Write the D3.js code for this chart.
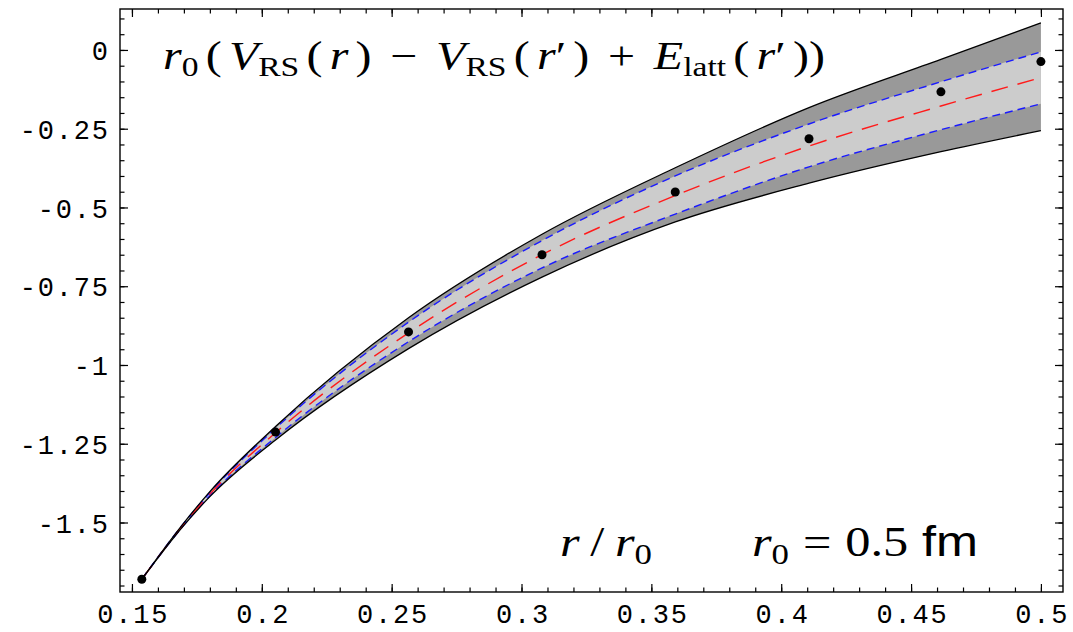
<!DOCTYPE html>
<html>
<head>
<meta charset="utf-8">
<script src="https://cdn.jsdelivr.net/npm/d3@7"></script>
<style>
  body { margin: 0; background: #fff; }
</style>
</head>
<body>
<div id="chart"></div>
<script>
// r/r0 sample points for the bands
var rGrid = [0.1538, 0.17, 0.18, 0.2053, 0.2565, 0.3079, 0.3592, 0.4107, 0.4615, 0.5];
var central = [-1.68, -1.505, -1.41, -1.215, -0.898, -0.65, -0.462, -0.305, -0.178, -0.088];
var outerUp = [-1.68, -1.501, -1.402, -1.195, -0.85, -0.585, -0.374, -0.183, -0.03, 0.086];
var outerLo = [-1.68, -1.509, -1.418, -1.238, -0.948, -0.721, -0.546, -0.423, -0.323, -0.256];
var innerUp = [-1.68, -1.502, -1.405, -1.201, -0.864, -0.605, -0.4, -0.235, -0.101, -0.006];
var innerLo = [-1.68, -1.508, -1.415, -1.23, -0.926, -0.692, -0.521, -0.371, -0.253, -0.171];

// lattice points
var latR = [0.1538, 0.2053, 0.2565, 0.3079, 0.3592, 0.4107, 0.4615, 0.5];
var latE = [-1.68, -1.213, -0.895, -0.65, -0.451, -0.282, -0.133, -0.037];

var xTicks = [0.15, 0.2, 0.25, 0.3, 0.35, 0.4, 0.45, 0.5];
var xTickLabels = ["0.15", "0.2", "0.25", "0.3", "0.35", "0.4", "0.45", "0.5"];
var yTicks = [0, -0.25, -0.5, -0.75, -1, -1.25, -1.5];
var yTickLabels = ["0", "-0.25", "-0.5", "-0.75", "-1", "-1.25", "-1.5"];

var margin = { top: 9, right: 10, bottom: 40, left: 120 },
    width = 1073 - margin.left - margin.right,
    height = 632 - margin.top - margin.bottom;

var svg = d3
    .select("#chart")
    .append("svg")
    .attr("width", 1073)
    .attr("height", 632)
    .append("g")
    .attr("transform", "translate(" + margin.left + "," + margin.top + ")");

var x = d3.scaleLinear().domain([0.1454, 0.5085]).range([0, width]);
var y = d3.scaleLinear().domain([-1.7206, 0.13]).range([height, 0]);

var grid = rGrid.map(function (r, i) {
    return {
        r: r,
        c: central[i],
        ou: outerUp[i],
        ol: outerLo[i],
        iu: innerUp[i],
        il: innerLo[i]
    };
});

var curve = d3.curveMonotoneX;

var outerArea = d3.area().curve(curve)
    .x(function (d) { return x(d.r); })
    .y0(function (d) { return y(d.ol); })
    .y1(function (d) { return y(d.ou); });
var innerArea = d3.area().curve(curve)
    .x(function (d) { return x(d.r); })
    .y0(function (d) { return y(d.il); })
    .y1(function (d) { return y(d.iu); });

function lineOf(key) {
    return d3.line().curve(curve)
        .x(function (d) { return x(d.r); })
        .y(function (d) { return y(d[key]); });
}

svg.append("path").datum(grid).attr("d", outerArea).attr("fill", "#999999");
svg.append("path").datum(grid).attr("d", innerArea).attr("fill", "#cccccc");

["iu", "il"].forEach(function (k) {
    svg.append("path").datum(grid).attr("d", lineOf(k))
        .attr("fill", "none").attr("stroke", "#1a1aff")
        .attr("stroke-width", 1.4).attr("stroke-dasharray", "8,5");
});
svg.append("path").datum(grid).attr("d", lineOf("c"))
    .attr("fill", "none").attr("stroke", "#ff1a1a")
    .attr("stroke-width", 1.4).attr("stroke-dasharray", "17,10");
["ou", "ol"].forEach(function (k) {
    svg.append("path").datum(grid).attr("d", lineOf(k))
        .attr("fill", "none").attr("stroke", "#000")
        .attr("stroke-width", 1.3);
});

svg.append("g")
    .selectAll("circle")
    .data(latR)
    .enter()
    .append("circle")
    .attr("cx", function (d) { return x(d); })
    .attr("cy", function (d, i) { return y(latE[i]); })
    .attr("r", 4.5)
    .attr("fill", "#000");

// axes: ticks on all four sides, pointing inward
var xMinor = d3.range(15, 51).map(function (d) { return d / 100; });
var yMinor = d3.range(-34, 3).map(function (d) { return d / 20; });

function styleAxis(g) {
    g.select(".domain").remove();
    g.selectAll("line").attr("stroke", "#000").attr("stroke-width", 1.2);
}

svg.append("g").attr("transform", "translate(0," + height + ")")
    .call(d3.axisBottom(x).tickValues(xMinor).tickSize(-4.5).tickFormat(""))
    .call(styleAxis);
svg.append("g")
    .call(d3.axisTop(x).tickValues(xMinor).tickSize(-4.5).tickFormat(""))
    .call(styleAxis);
svg.append("g")
    .call(d3.axisLeft(y).tickValues(yMinor).tickSize(-4.5).tickFormat(""))
    .call(styleAxis);
svg.append("g").attr("transform", "translate(" + width + ",0)")
    .call(d3.axisRight(y).tickValues(yMinor).tickSize(-4.5).tickFormat(""))
    .call(styleAxis);

var xAxis = svg.append("g").attr("transform", "translate(0," + height + ")")
    .call(d3.axisBottom(x).tickValues(xTicks).tickSize(-8).tickPadding(12)
        .tickFormat(function (d, i) { return xTickLabels[i]; }))
    .call(styleAxis);
svg.append("g")
    .call(d3.axisTop(x).tickValues(xTicks).tickSize(-8).tickFormat(""))
    .call(styleAxis);
var yAxis = svg.append("g")
    .call(d3.axisLeft(y).tickValues(yTicks).tickSize(-8).tickPadding(12)
        .tickFormat(function (d, i) { return yTickLabels[i]; }))
    .call(styleAxis);
svg.append("g").attr("transform", "translate(" + width + ",0)")
    .call(d3.axisRight(y).tickValues(yTicks).tickSize(-8).tickFormat(""))
    .call(styleAxis);

[xAxis, yAxis].forEach(function (a) {
    a.selectAll("text")
        .attr("fill", "#000")
        .style("font-family", "'Liberation Mono', monospace")
        .style("font-size", "27px")
        .style("letter-spacing", "1.8px");
});
xAxis.selectAll("text").attr("dx", "0.9px");
yAxis.selectAll("text").attr("dx", "1.8px").attr("dy", "0.36em");

svg.append("rect")
    .attr("width", width).attr("height", height)
    .attr("fill", "none").attr("stroke", "#000").attr("stroke-width", 1.4);

// math labels, widened to the size of the original typeset formula
// piece kinds: i italic, n upright, o operator, s subscript, p prime, f sans
function mathText(px, py, size, targetWidth, pieces) {
    var t = svg.append("text")
        .attr("x", px - margin.left).attr("y", py - margin.top)
        .style("font-family", "'Liberation Serif', serif")
        .style("font-size", size + "px")
        .attr("fill", "#000");
    var shift = 0, pad = 0, nGaps = 0;
    var spans = [];
    pieces.forEach(function (p, i) {
        var tight = p[1] === "s" || p[1] === "p";
        var s = t.append("tspan").text(p[0]);
        if (!tight && i > 0) nGaps++;
        var target = p[1] === "s" ? size * 0.18 : 0;
        if (target !== shift) { s.attr("dy", target - shift); shift = target; }
        var dx = pad + (p[1] === "o" ? size * 0.24 : 0) + (p[2] || 0);
        spans.push({ s: s, dx: dx, gap: !tight && i > 0 });
        pad = p[1] === "o" ? size * 0.24 : 0;
        if (p[1] === "i") s.style("font-style", "italic");
        if (p[1] === "s") s.style("font-size", Math.round(size * 0.7) + "px");
        if (p[1] === "f") s.style("font-family", "'Liberation Sans', sans-serif");
        if (dx) s.attr("dx", dx);
    });
    var w0 = t.node().getBBox().width;
    var sx0 = Math.min(targetWidth / w0, 1.2);
    var gap = Math.max(0, (targetWidth / sx0 - w0) / Math.max(nGaps, 1));
    spans.forEach(function (o) {
        if (o.gap) o.s.attr("dx", o.dx + gap);
    });
    var bb = t.node().getBBox();
    var sx = targetWidth / bb.width;
    t.attr("transform", "translate(" + bb.x + ",0) scale(" + sx + ",1) translate(" + (-bb.x) + ",0)");
    return t;
}

mathText(163, 69, 40, 662, [
    ["r", "i"], ["0", "s"], ["(", "n"], ["V", "i"], ["RS", "s"], ["(", "n"],
    ["r", "i"], [")", "n"], ["\u2212", "o"], ["V", "i"], ["RS", "s"], ["(", "n"],
    ["r", "i"], ["\u2032", "p"], [")", "n"], ["+", "o"], ["E", "i"], ["latt", "s"], ["(", "n"],
    ["r", "i"], ["\u2032", "p"], ["))", "n"]
]);

mathText(560, 556, 42, 92, [["r", "i"], ["/", "n", 2], ["r", "i", 2], ["0", "s"]]);
mathText(752, 556, 42, 226, [["r", "i"], ["0", "s"], ["=", "o"], ["0.5", "n"], ["fm", "f", 10]]);
</script>
</body>
</html>
